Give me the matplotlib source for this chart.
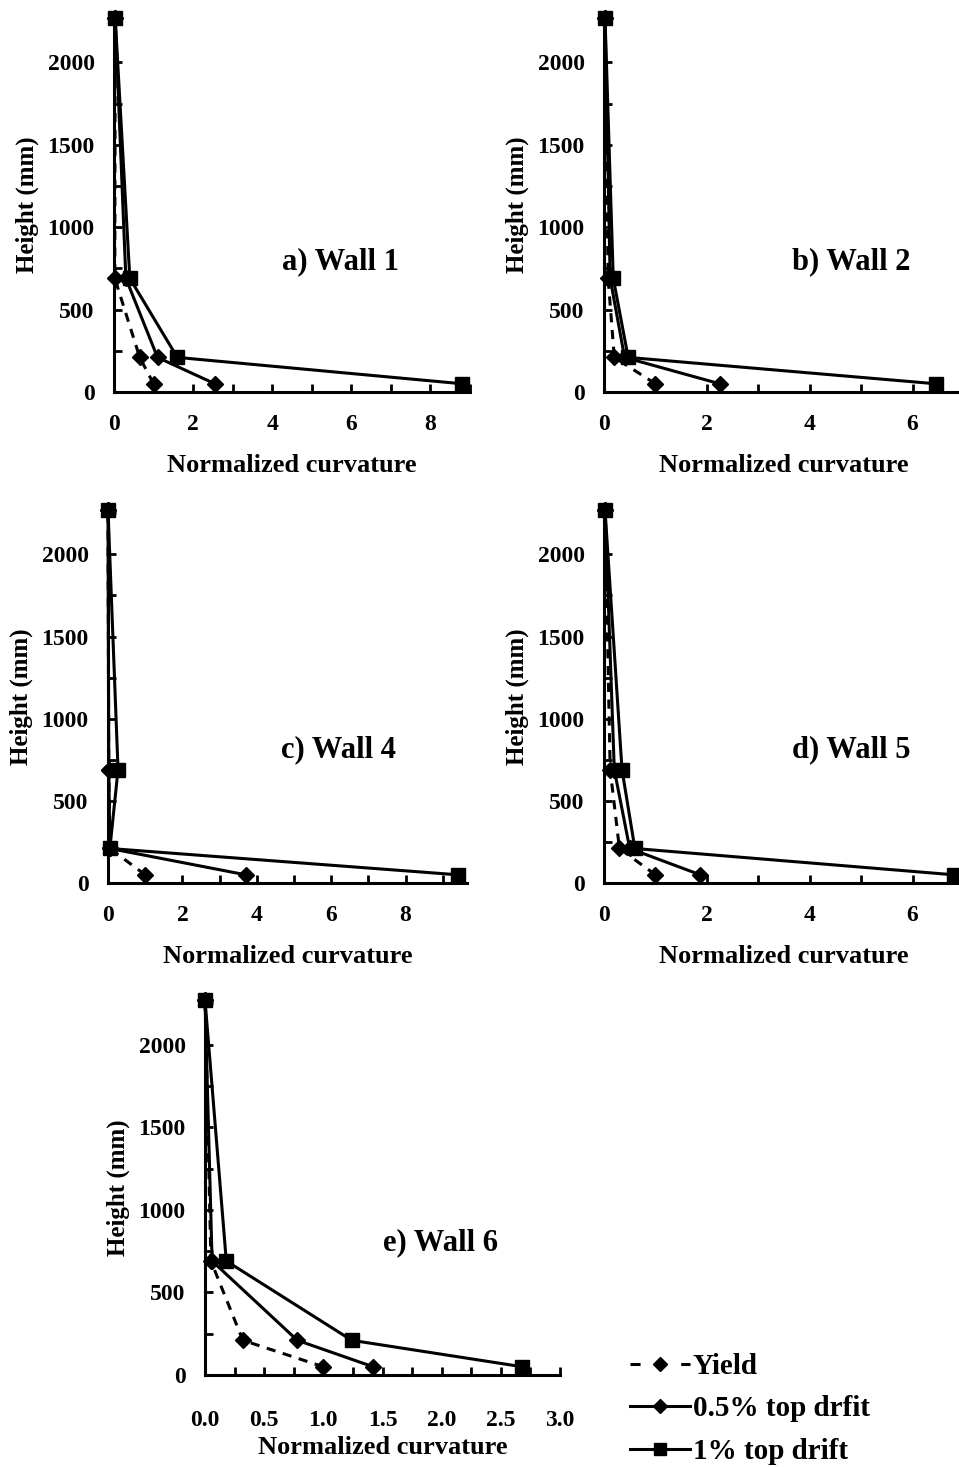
import matplotlib
matplotlib.use("Agg")
import matplotlib.pyplot as plt
from matplotlib.ticker import MultipleLocator, FuncFormatter
from matplotlib.lines import Line2D

plt.rcParams['font.family'] = ['Liberation Serif', 'DejaVu Serif']
plt.rcParams['font.weight'] = 'bold'

heights = [50, 210, 690, 2270]

wall1_yield = [1.0, 0.65, 0.02, 0.03]
wall1_d05 = [2.55, 1.1, 0.3, 0.03]
wall1_d1 = [8.8, 1.6, 0.4, 0.03]

wall2_yield = [1.0, 0.2, 0.08, 0.02]
wall2_d05 = [2.25, 0.4, 0.12, 0.02]
wall2_d1 = [6.45, 0.47, 0.18, 0.02]

wall4_yield = [1.0, 0.05, 0.02, 0.0]
wall4_d05 = [3.7, 0.05, 0.02, 0.0]
wall4_d1 = [9.4, 0.05, 0.27, 0.0]

wall5_yield = [1.0, 0.3, 0.12, 0.02]
wall5_d05 = [1.87, 0.5, 0.2, 0.02]
wall5_d1 = [6.8, 0.6, 0.35, 0.02]

wall6_yield = [1.0, 0.32, 0.05, 0.0]
wall6_d05 = [1.42, 0.78, 0.06, 0.0]
wall6_d1 = [2.68, 1.24, 0.18, 0.0]

panel_titles = ["a) Wall 1", "b) Wall 2", "c) Wall 4", "d) Wall 5", "e) Wall 6"]
legend_labels = ["Yield", "0.5% top drfit", "1% top drift"]

W, H = 959, 1467
fig = plt.figure(figsize=(W / 100, H / 100), dpi=100)

def px_axes(l, r, t, b):
    return [l / W, 1 - b / H, (r - l) / W, (b - t) / H]

panels = [
    dict(rect=px_axes(114, 470, 18, 392), xmax=9.0, xmaj=1, xlab=2, data=(wall1_yield, wall1_d05, wall1_d1), tpos=(0.635, 0.348), xpad=16, lpad=13.5),
    dict(rect=px_axes(604, 964, 18, 392), xmax=7.0, xmaj=1, xlab=2, data=(wall2_yield, wall2_d05, wall2_d1), tpos=(0.686, 0.348), xpad=16, lpad=13.5),
    dict(rect=px_axes(108, 467, 510, 883), xmax=9.65, xmaj=1, xlab=2, data=(wall4_yield, wall4_d05, wall4_d1), tpos=(0.643, 0.357), xpad=16, lpad=13.5),
    dict(rect=px_axes(604, 964, 510, 883), xmax=7.0, xmaj=1, xlab=2, data=(wall5_yield, wall5_d05, wall5_d1), tpos=(0.686, 0.357), xpad=16, lpad=13.5),
    dict(rect=px_axes(205, 560, 1000, 1375), xmax=3.0, xmaj=0.25, xlab=0.5, data=(wall6_yield, wall6_d05, wall6_d1), tpos=(0.662, 0.352), xpad=25, lpad=4),
]

lw = 2.2
for i, p in enumerate(panels):
    ax = fig.add_axes(p['rect'])
    y_, d05, d1 = p['data']
    ax.plot(y_, heights, color='black', lw=lw, ls=(0, (3, 2.5)), marker='D', ms=8, clip_on=False, zorder=3)
    ax.plot(d05, heights, color='black', lw=lw, marker='D', ms=8, clip_on=False, zorder=4)
    ax.plot(d1, heights, color='black', lw=lw, marker='s', ms=10, clip_on=False, zorder=5)
    ax.set_xlim(0, p['xmax'])
    ax.set_ylim(0, 2270)
    for s in ['top', 'right']:
        ax.spines[s].set_visible(False)
    for s in ['left', 'bottom']:
        ax.spines[s].set_linewidth(2.2)
    ax.xaxis.set_major_locator(MultipleLocator(p['xmaj']))
    ax.yaxis.set_major_locator(MultipleLocator(250))
    xlab = p['xlab']
    if xlab == 0.5:
        fmt = FuncFormatter(lambda v, pos: (f"{v:.1f}" if abs(v / 0.5 - round(v / 0.5)) < 1e-6 else ""))
    else:
        fmt = FuncFormatter(lambda v, pos: (f"{int(round(v))}" if abs(v / 2 - round(v / 2)) < 1e-6 else ""))
    ax.xaxis.set_major_formatter(fmt)
    ax.yaxis.set_major_formatter(FuncFormatter(lambda v, pos: (f"{int(round(v))}" if abs(v / 500 - round(v / 500)) < 1e-6 else "")))
    ax.tick_params(direction='in', length=6, width=2, labelsize=17, pad=14)
    ax.tick_params(axis='x', pad=p['xpad'])
    for lab in ax.get_xticklabels() + ax.get_yticklabels():
        lab.set_fontweight('bold')
    ax.set_xlabel("Normalized curvature", fontsize=19, fontweight='bold', labelpad=p['lpad'])
    ax.set_ylabel("Height (mm)", fontsize=18, fontweight='bold', labelpad=6)
    ax.text(p['tpos'][0], p['tpos'][1], panel_titles[i], transform=ax.transAxes,
            ha='center', va='center', fontsize=22, fontweight='bold')

handles = [
    Line2D([], [], color='black', lw=lw, ls=(0, (3.3, 5.0)), marker='D', ms=7),
    Line2D([], [], color='black', lw=lw, marker='D', ms=7),
    Line2D([], [], color='black', lw=lw, marker='s', ms=9),
]
leg = fig.legend(handles, legend_labels, loc='upper left', bbox_to_anchor=(630 / W, 1 - 1353 / H),
                 frameon=False, numpoints=1, prop=dict(size=21, weight='bold'),
                 handlelength=2.05, handletextpad=0.1, labelspacing=0.53, borderpad=0, borderaxespad=0)

fig.savefig("out.png", dpi=100)
